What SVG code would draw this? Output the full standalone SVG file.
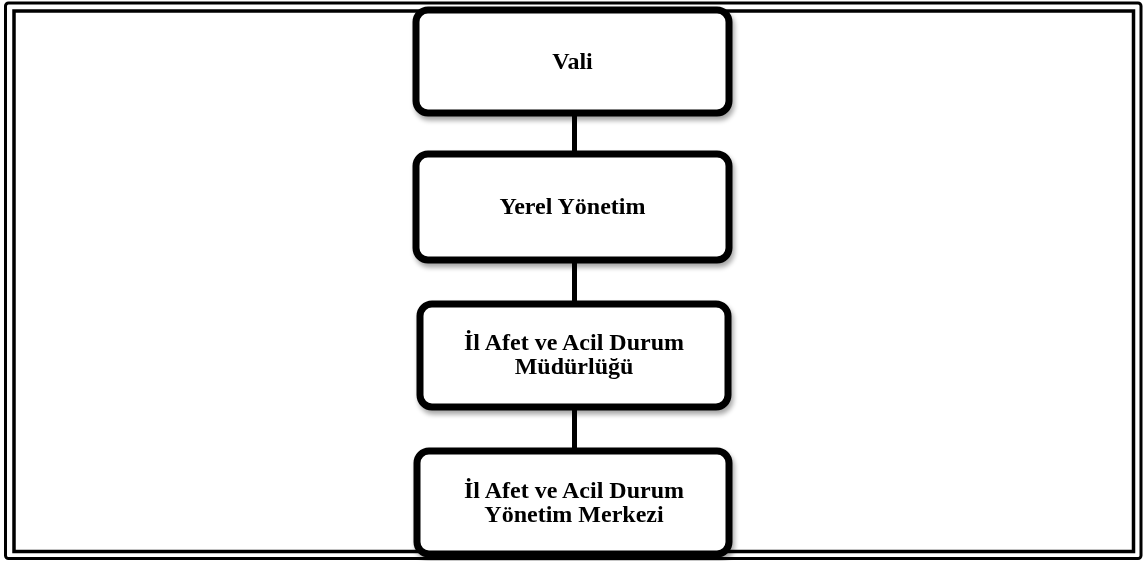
<svg xmlns="http://www.w3.org/2000/svg" width="1144" height="561" viewBox="0 0 1144 561">
  <defs>
    <filter id="shadow" x="-5%" y="-10%" width="115%" height="130%">
      <feGaussianBlur in="SourceAlpha" stdDeviation="2.5"/>
      <feOffset dx="2" dy="4" result="blur"/>
      <feComponentTransfer><feFuncA type="linear" slope="0.35"/></feComponentTransfer>
      <feMerge><feMergeNode/><feMergeNode in="SourceGraphic"/></feMerge>
    </filter>
  </defs>
  <style>
    .frame { fill: none; stroke: #000; }
    .box { fill: #fff; stroke: #000; stroke-width: 7; }
    .link { stroke: #000; stroke-width: 5; fill: none; }
    .label { font-family: "Liberation Serif", "Times New Roman", serif; font-weight: bold; font-size: 24px; fill: #000; text-anchor: middle; }
  </style>
  <rect width="1144" height="561" fill="#fff"/>

  <!-- double page frame -->
  <g id="frame">
    <rect class="frame" x="5.5" y="3" width="1135.5" height="555.5" rx="3" stroke-width="3"/>
    <rect class="frame" x="14" y="11" width="1119.5" height="540.5" stroke-width="3.5"/>
  </g>

  <!-- connectors -->
  <g id="connectors">
    <line class="link" x1="574.5" y1="113" x2="574.5" y2="154"/>
    <line class="link" x1="574.5" y1="260" x2="574.5" y2="304"/>
    <line class="link" x1="574.5" y1="407" x2="574.5" y2="451"/>
  </g>

  <g id="vali" filter="url(#shadow)">
    <rect class="box" x="416" y="10" width="313" height="103" rx="12"/>
    <text class="label" x="572.5" y="69">Vali</text>
  </g>

  <g id="yerel-yonetim" filter="url(#shadow)">
    <rect class="box" x="416" y="154" width="313" height="106" rx="12"/>
    <text class="label" x="572.5" y="214">Yerel Yönetim</text>
  </g>

  <g id="il-afad-mudurlugu" filter="url(#shadow)">
    <rect class="box" x="420" y="304" width="308" height="103" rx="12"/>
    <text class="label" x="574" y="350">İl Afet ve Acil Durum</text>
    <text class="label" x="574" y="374">Müdürlüğü</text>
  </g>

  <g id="il-afad-merkezi" filter="url(#shadow)">
    <rect class="box" x="417" y="451" width="312" height="103" rx="12"/>
    <text class="label" x="574" y="498">İl Afet ve Acil Durum</text>
    <text class="label" x="574" y="522">Yönetim Merkezi</text>
  </g>
</svg>
